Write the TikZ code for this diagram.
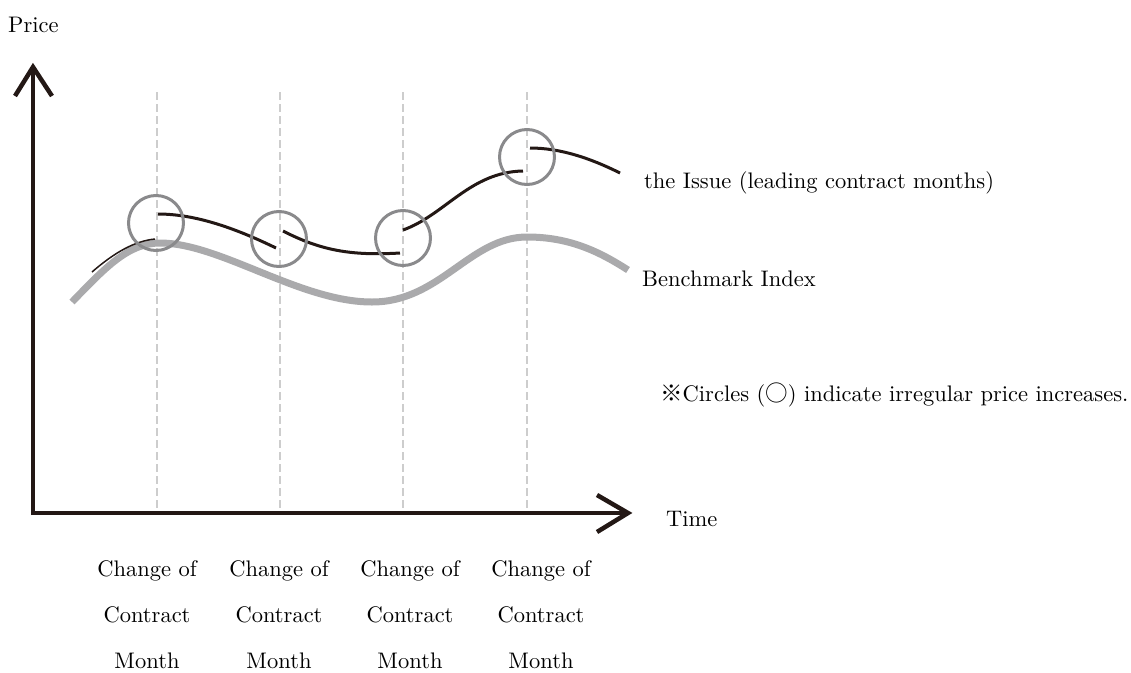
\documentclass[tikz,border=0pt]{standalone}
\usepackage{fontspec}
\setmainfont{lmroman10-regular.otf}
\newfontfamily\cjk{Noto Sans CJK JP}
\definecolor{ink}{RGB}{35,24,21}
\definecolor{bench}{RGB}{170,170,172}
\definecolor{ring}{RGB}{138,138,140}
\definecolor{guide}{RGB}{205,205,205}
\begin{document}
\begin{tikzpicture}[x=1pt,y=-1pt,
  lbl/.style={font=\fontsize{22.5}{27}\selectfont, inner sep=0pt, text=black},
  axisline/.style={draw=ink, line width=4.5pt},
  guideline/.style={draw=guide, line width=1.2pt, dash pattern=on 8pt off 4pt},
  ringnode/.style={circle, draw=ring, line width=3pt, minimum size=55pt, inner sep=0pt},
  issue/.style={draw=ink, line width=3pt},
  benchline/.style={draw=bench, line width=7pt}]
\useasboundingbox (0,0) rectangle (1131,672);
% guides
\foreach \gx in {157,280,403,527}{
  \draw[guideline] (\gx,92) -- (\gx,508);
}
% axes
\coordinate (origin) at (33,513);
\coordinate (ytip) at (33,67);
\coordinate (xtip) at (628,513);
\draw[axisline] (33,515) -- (ytip);
\draw[axisline] (31,513) -- (xtip);
\draw[axisline, miter limit=10] (15,96) -- (ytip) -- (52,96);
\draw[axisline, miter limit=10] (597,495) -- (xtip) -- (597,532);
% benchmark curve
\draw[benchline] (72,302) .. controls (105,268) and (128,243) .. (160,243)
  .. controls (220,243) and (300,302) .. (372,302)
  .. controls (440,302) and (470,237) .. (527,237)
  .. controls (570,237) and (600,252) .. (628,270);
% issue curve
\draw[draw=ink, line width=1.5pt] (92,272) .. controls (115,252) and (135,241) .. (155,239);
\draw[issue] (158,214) .. controls (195,214) and (235,228) .. (276,248);
\draw[issue] (283,231) .. controls (320,250) and (350,256) .. (400,253);
\draw[issue] (403,230) .. controls (445,215) and (470,172) .. (523,171);
\draw[issue] (530,148) .. controls (560,148) and (590,158) .. (620,173);
% circles
\node[ringnode] (c1) at (156,223) {};
\node[ringnode] (c2) at (279,239) {};
\node[ringnode] (c3) at (403,238) {};
\node[ringnode] (c4) at (527,157) {};
% texts
\node[lbl, anchor=base west] (price) at (8,32) {Price};
\node[lbl, anchor=base west] (issuelbl) at (644,188) {the Issue (leading contract months)};
\node[lbl, anchor=base west] (benchlbl) at (642,286) {Benchmark Index};
\node[lbl, anchor=base west] (note) at (660,401) {{\cjk ※}Circles ({\cjk ○}) indicate irregular price increases.};
\node[lbl, anchor=base west] (time) at (666,526) {Time};
\foreach \cx [count=\i] in {147,279,410,541}{
  \node[lbl, anchor=base] (ch\i) at (\cx,576) {Change of};
  \node[lbl, anchor=base] (co\i) at (\cx,622) {Contract};
  \node[lbl, anchor=base] (mo\i) at (\cx,668) {Month};
}
\end{tikzpicture}
\end{document}
